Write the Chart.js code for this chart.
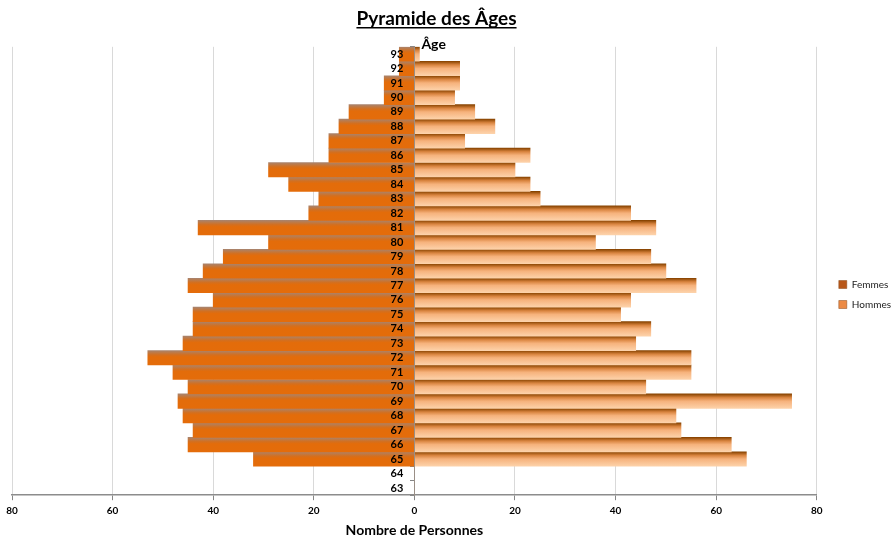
<!DOCTYPE html>
<html lang="fr">
<head>
<meta charset="utf-8">
<title>Pyramide des Âges</title>
<script src="https://cdn.jsdelivr.net/npm/chart.js@4/dist/chart.umd.min.js"></script>
<style>
  html, body { margin: 0; padding: 0; background: #fff; }
  #wrap { width: 891px; height: 539px; position: relative; }
</style>
</head>
<body>
<div id="wrap"><canvas id="pyramid"></canvas></div>
<script>
// ages from bottom (63) to top (93)
const ages = [63, 64, 65, 66, 67, 68, 69, 70, 71, 72, 73, 74, 75, 76, 77, 78,
  79, 80, 81, 82, 83, 84, 85, 86, 87, 88, 89, 90, 91, 92, 93];
const femmes = [0, 0, 32, 45, 44, 46, 47, 45, 48, 53, 46, 44, 44, 40, 45, 42,
  38, 29, 43, 21, 19, 25, 29, 17, 17, 15, 13, 6, 6, 3, 3];
const hommes = [0, 0, 66, 63, 53, 52, 75, 46, 55, 55, 44, 47, 41, 43, 56, 50,
  47, 36, 48, 43, 25, 23, 20, 23, 10, 16, 12, 8, 9, 9, 1];
const xTicks = [-80, -60, -40, -20, 0, 20, 40, 60, 80];

const FONT = "Lato, 'Liberation Sans', sans-serif";

// vertical gradient across one row, so each bar gets the shaded look
function rowGradient(ctx, stops, fallback) {
  const chart = ctx.chart;
  const y = chart.scales.y;
  if (ctx.type !== 'data' || !y || !chart.chartArea) return fallback;
  const center = y.getPixelForValue(ctx.dataIndex);
  const h = Math.abs(y.getPixelForValue(1) - y.getPixelForValue(0));
  const g = chart.ctx.createLinearGradient(0, center - h / 2, 0, center + h / 2);
  stops.forEach(s => g.addColorStop(s[0], s[1]));
  return g;
}

const femmesStops = [[0, '#a9836c'], [0.3, '#d46f1e'], [0.45, '#e36c0a'], [1, '#e46c0a']];
const hommesStops = [[0, '#874300'], [0.25, '#d9843f'], [0.5, '#f6b27c'], [1, '#fdd2aa']];
const legendColors = ['#b8581a', '#ec8a45'];

const extras = {
  id: 'extras',
  afterLayout(chart) {
    // nudge legend and title to where the original has them
    const lg = chart.legend;
    lg.left += 12; lg.right += 12;
    lg.top += 25; lg.bottom += 25;
    const t = chart.titleBlock;
    t.left -= 14; t.right -= 14;
  },
  afterDraw(chart) {
    const c = chart.ctx;
    const t = chart.titleBlock;
    c.save();
    // underline of the title
    c.font = 'bold 19px ' + FONT;
    const w = c.measureText(chart.options.plugins.title.text).width;
    const cx = (t.left + t.right) / 2;
    const uy = t.bottom - t.options.padding.bottom - 2;
    c.strokeStyle = '#000';
    c.lineWidth = 1.5;
    c.beginPath();
    c.moveTo(cx - w / 2, uy);
    c.lineTo(cx + w / 2, uy);
    c.stroke();
    // "Âge" axis title at the top of the centre axis
    const x0 = chart.scales.x.getPixelForValue(0);
    c.font = 'bold 14px ' + FONT;
    c.fillStyle = '#000';
    c.textBaseline = 'middle';
    c.textAlign = 'left';
    c.fillText('Âge', x0 + 7, chart.chartArea.top - 2);
    c.restore();
  }
};

new Chart(document.getElementById('pyramid'), {
  type: 'bar',
  data: {
    labels: ages.map(String),
    datasets: [
      {
        label: 'Femmes',
        data: femmes.map(v => -v),
        backgroundColor: ctx => rowGradient(ctx, femmesStops, '#e46c0a'),
        borderWidth: 0,
        barPercentage: 1,
        categoryPercentage: 1
      },
      {
        label: 'Hommes',
        data: hommes,
        backgroundColor: ctx => rowGradient(ctx, hommesStops, '#f4a56a'),
        borderWidth: 0,
        barPercentage: 1,
        categoryPercentage: 1
      }
    ]
  },
  options: {
    indexAxis: 'y',
    responsive: true,
    maintainAspectRatio: false,
    animation: false,
    layout: { padding: { left: 12, right: 2, top: 0, bottom: 0 } },
    scales: {
      x: {
        stacked: true,
        min: -80,
        max: 80,
        afterBuildTicks: axis => { axis.ticks = xTicks.map(v => ({ value: v })); },
        ticks: {
          callback: v => Math.abs(v),
          color: '#000',
          font: { family: FONT, size: 10, weight: 'bold' },
          padding: 5,
          maxRotation: 0
        },
        grid: { color: '#d9d9d9', tickColor: '#868686', tickLength: 5 },
        border: { color: '#8c8c8c', width: 1.5 },
        title: {
          display: true,
          text: 'Nombre de Personnes',
          color: '#000',
          font: { family: FONT, size: 14, weight: 'bold' },
          padding: { top: 0, bottom: 0 }
        }
      },
      // the centre axis: line and short tick marks
      y: {
        stacked: true,
        reverse: true,
        position: { x: 0 },
        ticks: { display: false },
        grid: { drawOnChartArea: false, tickColor: '#868686', tickLength: 4 },
        border: { color: '#9a8f86', width: 1, z: 1 }
      },
      // age labels, set a little left of the centre axis and drawn over the bars
      yLabels: {
        axis: 'y',
        type: 'category',
        reverse: true,
        offset: true,
        position: { x: -2.2 },
        ticks: {
          z: 1,
          color: '#000',
          font: { family: FONT, size: 11, weight: 'bold' },
          autoSkip: false
        },
        grid: { display: false },
        border: { display: false }
      }
    },
    plugins: {
      title: {
        display: true,
        text: 'Pyramide des Âges',
        color: '#000',
        font: { family: FONT, size: 19, weight: 'bold' },
        padding: { top: 7, bottom: 17 }
      },
      legend: {
        position: 'right',
        labels: {
          boxWidth: 8,
          boxHeight: 8,
          padding: 10,
          color: '#222',
          font: { family: FONT, size: 10 },
          generateLabels: chart => Chart.defaults.plugins.legend.labels.generateLabels(chart)
            .map((item, i) => Object.assign(item, {
              fillStyle: legendColors[i],
              strokeStyle: '#8a4a1a',
              lineWidth: 0.5
            }))
        }
      },
      tooltip: { enabled: false }
    }
  },
  plugins: [extras]
});
</script>
</body>
</html>
